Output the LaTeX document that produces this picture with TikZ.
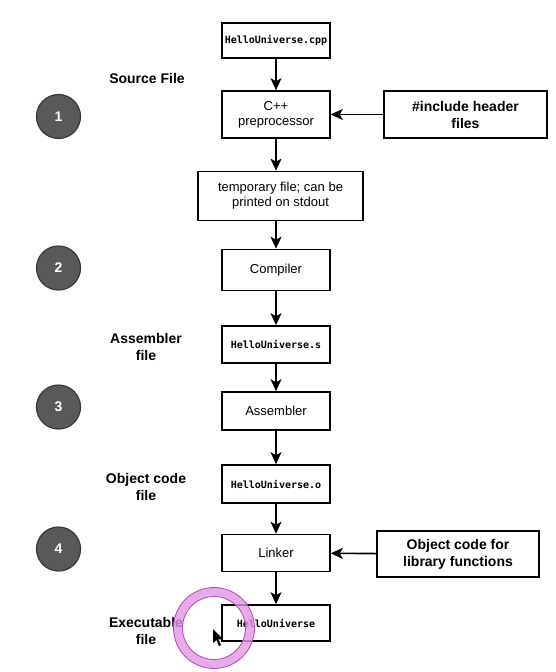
\documentclass[tikz,border=0pt]{standalone}
\usepackage{fontspec}
\setmainfont{Liberation Sans}
\newfontfamily\codefont{DejaVu Sans Mono}
\usetikzlibrary{arrows.meta}
\colorlet{stepfill}{black!65}
\colorlet{stepedge}{black!78}
\definecolor{ringpink}{RGB}{225,150,225}
\definecolor{ringedge}{RGB}{180,70,180}

\begin{document}
\begin{tikzpicture}[x=1pt, y=-1pt]
  \tikzset{bx/.style={draw, line width=1.6pt, minimum width=108pt, inner sep=2pt, align=center, font=\fontsize{13}{15}\selectfont},
    fx/.style={bx, font=\codefont\bfseries\fontsize{10}{12}\selectfont},
    lbl/.style={align=center, font=\bfseries\fontsize{14}{17}\selectfont},
    num/.style={circle, fill=stepfill, draw=stepedge, line width=1.2pt, minimum size=44pt, text=white, font=\bfseries\fontsize{14}{16}\selectfont},
    flow/.style={line width=1.6pt, -{Stealth[length=12pt, width=11pt, inset=3pt]}}}
\useasboundingbox (0,0) rectangle (556,672);
% main column
\node[fx, minimum height=35pt] (cpp) at (276,40.5) {HelloUniverse.cpp};
\node[bx, minimum height=47pt] (pre) at (276,114.5) {C++\\preprocessor};
\node[bx, minimum height=47pt, minimum width=163pt, font=\bfseries\fontsize{14}{17}\selectfont] (inc) at (465.5,114.5) {\#include header\\files};
\node[bx, minimum height=49pt, minimum width=165pt] (tmp) at (280.5,196) {temporary file; can be\\printed on stdout};
\node[bx, minimum height=41pt] (comp) at (276,270) {Compiler};
\node[fx, minimum height=37pt] (srcs) at (276,344.5) {HelloUniverse.s};
\node[bx, minimum height=38pt] (asm) at (276,411) {Assembler};
\node[fx, minimum height=38pt] (objo) at (276,484) {HelloUniverse.o};
\node[bx, minimum height=37pt] (link) at (276,553) {Linker};
\node[bx, minimum height=46pt, minimum width=162pt, font=\bfseries\fontsize{14}{17}\selectfont] (lib) at (458,554) {Object code for\\library functions};
\node[fx, minimum height=36pt] (exe) at (276,623) {HelloUniverse};
% connectors
\draw[flow] (cpp) -- (pre); \draw[flow] (pre.south) -- (pre.south |- tmp.north);
\draw[flow] (comp.north |- tmp.south) -- (comp.north); \draw[flow] (comp) -- (srcs);
\draw[flow] (srcs) -- (asm); \draw[flow] (asm) -- (objo);
\draw[flow] (objo) -- (link); \draw[flow] (link) -- (exe);
\draw[flow] (inc) -- (pre); \draw[flow] (lib) -- (link);
% steps and labels
\node[num] (n1) at (58.5,116.5) {1};
\node[num] (n2) at (58.5,268) {2};
\node[num] (n3) at (58.5,407) {3};
\node[num] (n4) at (58.5,549) {4};
\node[lbl] (lsrc) at (147,78) {Source File};
\node[lbl] (lasm) at (146,347) {Assembler\\file};
\node[lbl] (lobj) at (146,487) {Object code\\file};
\node[lbl] (lexe) at (146,631) {Executable\\file};
% cursor highlight
\draw[ringpink, line width=9pt, opacity=0.8] (214,628) circle[radius=36];
\draw[ringedge, line width=0.8pt] (214,628) circle[radius=40.5] (214,628) circle[radius=31.5];
\fill[black] (213,629) -- (213,643) -- (216.5,640) -- (219,646) -- (221,645) -- (218.5,639.5) -- (223,639) -- cycle;
\end{tikzpicture}
\end{document}
